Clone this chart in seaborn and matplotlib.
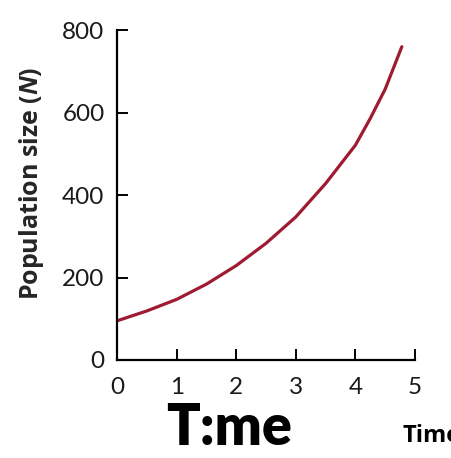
import matplotlib
matplotlib.use("Agg")
import matplotlib.pyplot as plt
import pandas as pd
import seaborn as sns

# --- dane ---
TIME = [0, 0.5, 1, 1.5, 2, 2.5, 3, 3.5, 4, 4.25, 4.5, 4.78]
POPULATION = [95, 119, 147, 184, 229, 283, 347, 428, 521, 586, 657, 760]
X_TICKS = [0, 1, 2, 3, 4, 5]
Y_TICKS = [0, 200, 400, 600, 800]

LINE_COLOR = "#9e1b32"
FONT = ["Lato", "DejaVu Sans"]
LABEL_FONT = ["Open Sans", "DejaVu Sans"]


def main():
    sns.set_theme(style="white")
    plt.rcParams["font.family"] = FONT
    plt.rcParams["mathtext.fontset"] = "custom"
    plt.rcParams["mathtext.bfit"] = "Open Sans:bold:italic"

    df = pd.DataFrame({"time": TIME, "pop": POPULATION})

    fig = plt.figure(figsize=(4.52, 4.58), dpi=100)
    ax = fig.add_axes([0.259, 0.214, 0.659, 0.720])

    sns.lineplot(data=df, x="time", y="pop", ax=ax, color=LINE_COLOR, linewidth=2.3)

    ax.set_xlim(0, 5)
    ax.set_ylim(0, 800)
    ax.set_xticks(X_TICKS)
    ax.set_yticks(Y_TICKS)
    ax.set_xlabel("")
    ax.set_ylabel("")

    sns.despine(ax=ax)
    for side in ["left", "bottom"]:
        ax.spines[side].set_color("black")
        ax.spines[side].set_linewidth(1.6)

    ax.tick_params(axis="both", direction="in", length=8, width=1.4, color="black",
                   labelsize=17.5, labelcolor="#1a1a1a")
    ax.tick_params(axis="y", pad=9, left=True)
    ax.tick_params(axis="x", pad=12, bottom=True)

    fig.text(32 / 452, 1 - 183 / 458, "Population size ($\\mathbfit{N}$)",
             rotation=90, ha="center", va="center", fontsize=18, fontweight="bold",
             family=LABEL_FONT)

    # odręczny podpis i ucięty tytuł osi
    fig.text(229 / 452, 1 - 428 / 458, "T:me", ha="center", va="center",
             fontsize=40, fontweight="heavy", color="black")
    fig.text(403 / 452, 1 - 436 / 458, "Time", ha="left", va="center",
             fontsize=17, fontweight="bold", color="black", family=LABEL_FONT)

    fig.savefig("out.png", dpi=100)
    plt.close(fig)


if __name__ == "__main__":
    main()
